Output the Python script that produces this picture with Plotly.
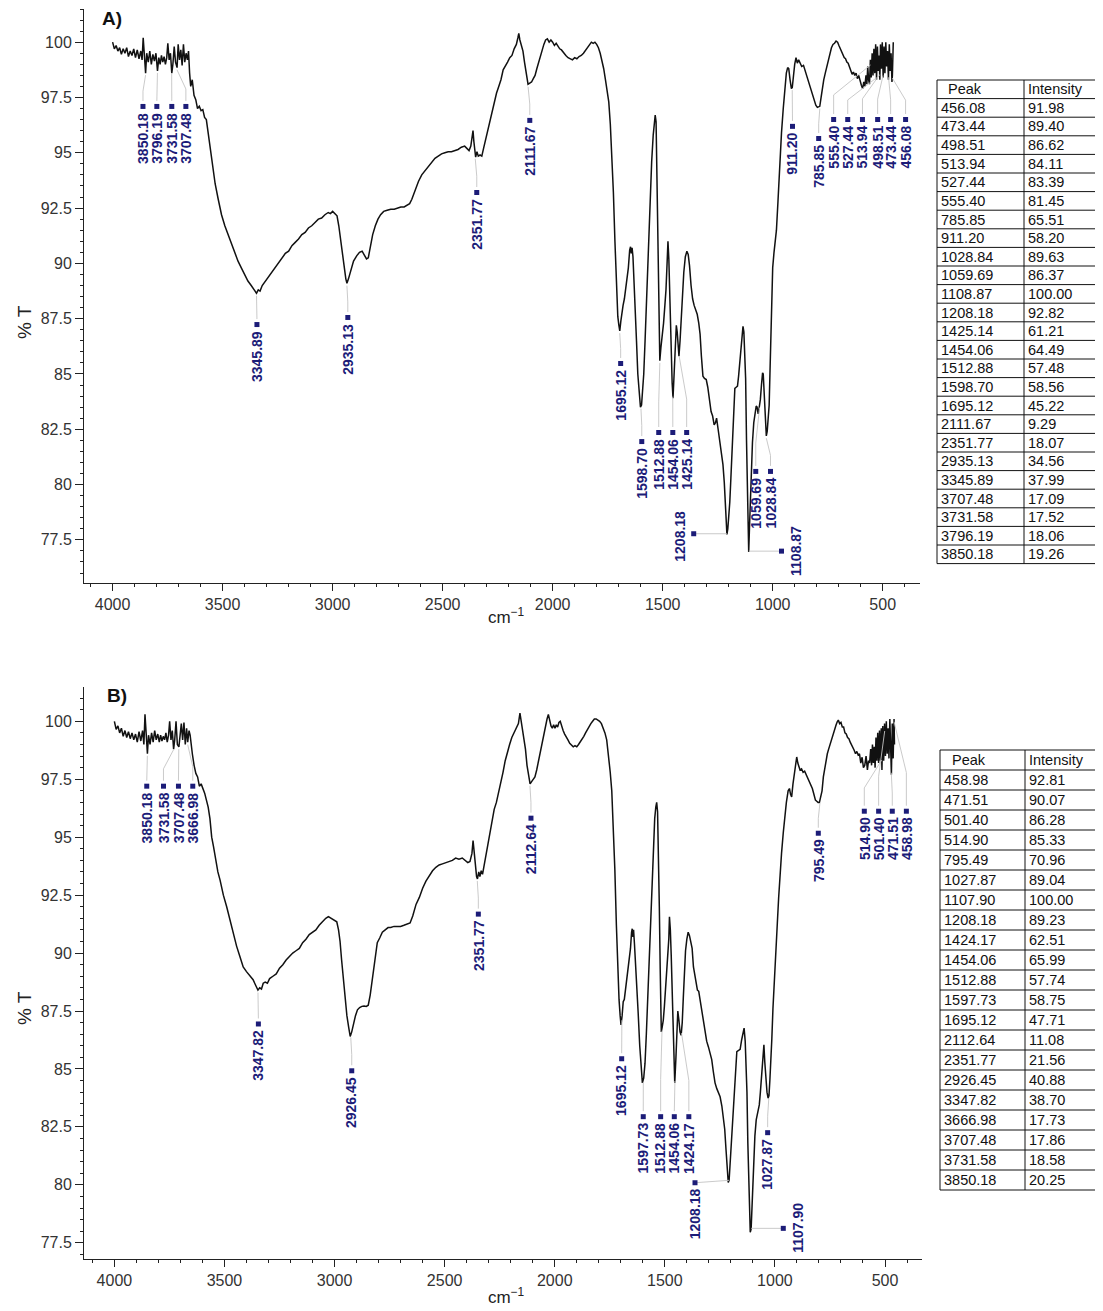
import numpy as np
import plotly.graph_objects as go

W, H = 1103, 1311
OFF = 8  # default page body margin of the written html page
FW, FH = W - OFF, H - OFF

# ---------------- Spectrum A (wavenumber cm-1, %T) ----------------
a_wn = [4000, 3992, 3984, 3976, 3968, 3960, 3952, 3944, 3936, 3928, 3920, 3912, 3904, 3896, 3888, 3880, 3872, 3866, 3861, 3856,
        3850, 3845, 3838, 3831, 3824, 3817, 3810, 3803, 3796, 3790, 3784, 3778, 3772, 3766, 3760, 3754, 3749, 3743, 3737, 3731,
        3726, 3720, 3714, 3707, 3702, 3696, 3690, 3684, 3678, 3672, 3666, 3660, 3655, 3650, 3645, 3638, 3630, 3622, 3614, 3606,
        3598, 3590, 3582, 3574, 3566, 3556, 3546, 3534, 3520, 3505, 3490, 3475, 3460, 3445, 3430, 3415, 3400, 3385, 3370, 3358,
        3346, 3338, 3330, 3320, 3305, 3290, 3275, 3260, 3245, 3230, 3215, 3200, 3185, 3170, 3155, 3140, 3125, 3110, 3095, 3080,
        3065, 3050, 3035, 3020, 3010, 3000, 2990, 2980, 2972, 2964, 2956, 2948, 2940, 2935, 2928, 2918, 2905, 2890, 2878, 2866,
        2856, 2846, 2838, 2828, 2818, 2806, 2794, 2782, 2768, 2752, 2736, 2720, 2704, 2690, 2675, 2660, 2650, 2640, 2625, 2610,
        2595, 2580, 2565, 2550, 2535, 2520, 2505, 2490, 2475, 2460, 2445, 2430, 2415, 2400, 2390, 2380, 2372, 2366, 2362, 2358,
        2354, 2350, 2344, 2338, 2330, 2322, 2314, 2305, 2295, 2285, 2275, 2265, 2255, 2245, 2235, 2225, 2215, 2205, 2195, 2185,
        2175, 2165, 2158, 2154, 2149, 2142, 2135, 2128, 2120, 2112, 2104, 2096, 2088, 2080, 2072, 2064, 2056, 2048, 2040, 2032,
        2024, 2016, 2008, 2000, 1992, 1984, 1976, 1968, 1960, 1950, 1940, 1930, 1920, 1910, 1900, 1890, 1880, 1870, 1860, 1850,
        1840, 1832, 1824, 1816, 1808, 1800, 1792, 1784, 1776, 1768, 1760, 1752, 1745, 1738, 1731, 1724, 1717, 1710, 1704, 1699,
        1695, 1690, 1685, 1680, 1674, 1668, 1662, 1656, 1650, 1646, 1643, 1639, 1635, 1630, 1625, 1619, 1613, 1607, 1601, 1596,
        1591, 1586, 1580, 1574, 1566, 1558, 1550, 1543, 1538, 1534, 1530, 1526, 1522, 1518, 1515, 1513, 1508, 1502, 1496, 1490,
        1485, 1480, 1476, 1472, 1467, 1462, 1457, 1453, 1448, 1443, 1438, 1434, 1430, 1426, 1421, 1416, 1411, 1404, 1397, 1390,
        1384, 1378, 1371, 1364, 1357, 1350, 1343, 1336, 1330, 1324, 1317, 1310, 1302, 1295, 1288, 1280, 1273, 1266, 1260, 1255,
        1248, 1240, 1233, 1226, 1220, 1215, 1211, 1208, 1204, 1200, 1195, 1190, 1185, 1180, 1176, 1172, 1166, 1160, 1155, 1150,
        1145, 1140, 1135, 1131, 1127, 1123, 1119, 1115, 1112, 1109, 1105, 1101, 1097, 1092, 1086, 1080, 1075, 1071, 1066, 1061,
        1056, 1051, 1046, 1043, 1040, 1036, 1032, 1029, 1025, 1020, 1016, 1012, 1008, 1004, 1000, 994, 988, 983, 976, 968,
        960, 952, 944, 938, 932, 927, 921, 915, 911, 906, 900, 894, 888, 882, 876, 868, 860, 852, 844, 836,
        828, 820, 812, 804, 797, 790, 786, 780, 774, 768, 761, 754, 747, 740, 733, 726, 719, 712, 705, 699,
        693, 687, 681, 675, 669, 663, 657, 651, 645, 639, 633, 627, 621, 615, 609, 603, 597, 591, 586, 581,
        576, 572, 568, 564, 560, 556, 552, 548, 544, 540, 536, 532, 528, 524, 520, 516, 513, 510, 506, 502,
        498, 494, 490, 486, 482, 478, 474, 470, 466, 462, 458, 456, 452]
a_t = [100.0, 99.7, 99.85, 99.6, 99.75, 99.45, 99.7, 99.5, 99.75, 99.35, 99.6, 99.4, 99.7, 99.3, 99.65, 99.25, 99.6, 99.2, 100.2, 99.4,
       98.6, 99.5, 99.1, 99.6, 99.0, 99.45, 99.15, 99.5, 98.7, 99.3, 99.0, 99.4, 99.1, 99.35, 99.0, 99.3, 99.95, 99.2, 99.5, 98.6,
       99.0, 99.8, 99.1, 98.85, 99.9, 99.2, 99.65, 98.95, 99.9, 99.1, 99.5, 99.2, 99.6, 98.6, 98.0, 98.3, 97.6, 97.4, 97.0, 97.1,
       96.9, 96.95, 96.6, 96.5, 95.9, 95.0, 94.5, 93.6, 92.9, 92.2, 91.7, 91.3, 90.9, 90.5, 90.1, 89.8, 89.5, 89.2, 89.0, 88.8,
       88.65, 88.8, 88.75, 89.0, 89.2, 89.45, 89.6, 89.85, 90.0, 90.2, 90.45, 90.55, 90.8, 90.95, 91.1, 91.3, 91.4, 91.6, 91.7, 91.85,
       92.0, 92.05, 92.2, 92.3, 92.25, 92.35, 92.25, 92.15, 91.7, 91.0, 90.4, 89.9, 89.3, 89.1, 89.3, 89.7, 90.1, 90.35, 90.5, 90.55,
       90.4, 90.2, 90.25, 90.8, 91.3, 91.7, 92.0, 92.2, 92.35, 92.4, 92.45, 92.45, 92.5, 92.55, 92.55, 92.65, 92.7, 92.9, 93.3, 93.7,
       94.0, 94.2, 94.4, 94.6, 94.75, 94.85, 94.95, 95.0, 95.05, 95.05, 95.1, 95.15, 95.25, 95.3, 95.2, 95.1, 95.3, 95.8, 96.0, 95.5,
       94.9, 94.8, 95.05, 94.85, 94.9, 94.85, 95.2, 95.6, 96.0, 96.5, 96.9, 97.3, 97.7, 98.0, 98.3, 98.75, 98.9, 99.1, 99.3, 99.4,
       99.7, 99.9, 100.2, 100.4, 100.1, 99.9, 99.6, 99.1, 98.5, 98.1, 98.15, 98.2, 98.35, 98.5, 98.8, 99.1, 99.4, 99.7, 99.9, 100.1,
       100.15, 100.0, 100.1, 100.0, 99.85, 99.95, 99.8, 99.7, 99.65, 99.5, 99.4, 99.3, 99.25, 99.2, 99.3, 99.25, 99.35, 99.4, 99.5, 99.65,
       99.75, 99.9, 100.0, 99.95, 100.0, 99.9, 99.75, 99.5, 99.2, 98.8, 98.3, 97.8, 97.3, 96.3, 95.0, 93.2, 91.0, 88.6, 87.6, 87.2,
       86.95, 87.4, 87.9, 88.1, 88.4, 88.8, 89.3, 89.8, 90.6, 90.75, 90.45, 90.7, 90.3, 89.3, 88.0, 86.5, 85.0, 84.0, 83.5, 83.6,
       84.2, 85.0, 86.5, 88.3, 90.6, 92.8, 94.6, 95.8, 96.5, 96.7, 96.4, 94.0, 90.5, 87.5, 86.0, 85.6, 86.2, 86.7, 87.3, 88.1,
       88.8, 90.0, 91.0, 90.2, 88.0, 86.1, 84.6, 83.9, 85.2, 86.6, 87.2, 86.9, 86.2, 85.8, 86.5, 87.6, 88.4, 89.6, 90.3, 90.55,
       90.4, 89.9, 89.0, 88.4, 88.1, 87.9, 87.7, 87.3, 86.8, 85.8, 84.9, 84.8, 84.75, 84.4, 83.9, 83.3, 83.1, 82.7, 82.8, 83.0,
       82.5, 81.9, 81.6, 80.9, 80.1, 79.0, 78.2, 77.75, 78.0, 78.5, 79.2, 80.3, 81.3, 82.3, 83.5, 84.35, 84.4, 84.45, 84.9, 85.5,
       86.2, 86.8, 87.15, 86.9, 86.0, 84.8, 82.0, 79.0, 77.0, 76.95, 78.2, 79.6, 80.8, 81.9, 82.8, 83.3, 83.55, 83.5, 83.2, 83.5,
       83.85, 84.5, 85.05, 85.0, 84.3, 83.3, 82.5, 82.2, 82.4, 82.9, 83.6, 85.2, 87.2, 88.8, 89.8, 90.5, 91.0, 91.5, 92.8, 94.5,
       95.9, 97.0, 98.0, 98.6, 98.85, 98.8, 98.3, 97.9, 97.95, 98.5, 99.0, 99.3, 99.05, 99.2, 99.1, 98.9, 98.95, 98.7, 98.4, 98.1,
       97.85, 97.6, 97.35, 97.15, 97.05, 97.1, 97.1, 97.5, 98.0, 98.3, 98.6, 98.9, 99.25, 99.55, 99.75, 99.9, 99.95, 100.05, 100.0, 99.85,
       99.7, 99.55, 99.45, 99.3, 99.25, 99.1, 99.05, 98.85, 98.7, 98.55, 98.65, 98.5, 98.6, 98.35, 98.5, 98.2, 98.05, 97.9, 98.2, 98.0,
       98.5, 98.1, 98.9, 98.3, 98.1, 99.2, 98.4, 99.5, 98.5, 99.7, 98.6, 99.9, 98.3, 99.8, 98.7, 99.4, 98.3, 99.9, 98.8, 100.0,
       98.4, 99.8, 98.6, 100.0, 98.9, 99.6, 98.3, 99.9, 98.7, 99.5, 98.2, 98.5, 100.0]

# ---------------- Spectrum B ----------------
b_wn = [4000, 3992, 3984, 3976, 3968, 3960, 3952, 3944, 3936, 3928, 3920, 3912, 3904, 3896, 3888, 3880, 3872, 3866, 3861, 3856,
        3850, 3845, 3838, 3831, 3824, 3817, 3810, 3803, 3796, 3790, 3784, 3778, 3772, 3766, 3760, 3754, 3749, 3743, 3737, 3731,
        3726, 3720, 3714, 3707, 3702, 3696, 3690, 3684, 3678, 3672, 3667, 3661, 3656, 3651, 3646, 3638, 3630, 3622, 3614, 3606,
        3598, 3590, 3582, 3574, 3566, 3558, 3550, 3540, 3530, 3520, 3505, 3490, 3475, 3460, 3445, 3430, 3415, 3400, 3385, 3370,
        3358, 3348, 3340, 3332, 3324, 3315, 3305, 3295, 3280, 3265, 3250, 3235, 3220, 3205, 3190, 3175, 3160, 3145, 3130, 3115,
        3100, 3085, 3070, 3055, 3040, 3028, 3015, 3002, 2990, 2982, 2975, 2968, 2960, 2952, 2944, 2936, 2929, 2922, 2914, 2905,
        2896, 2886, 2876, 2866, 2856, 2847, 2838, 2831, 2822, 2814, 2806, 2795, 2783, 2770, 2757, 2745, 2730, 2715, 2700, 2685,
        2670, 2657, 2645, 2630, 2615, 2600, 2585, 2570, 2555, 2540, 2525, 2510, 2495, 2480, 2465, 2450, 2435, 2420, 2405, 2395,
        2385, 2376, 2371, 2366, 2360, 2355, 2351, 2345, 2340, 2334, 2328, 2320, 2312, 2304, 2295, 2285, 2275, 2265, 2255, 2245,
        2235, 2225, 2215, 2205, 2195, 2185, 2175, 2165, 2158, 2152, 2146, 2140, 2133, 2126, 2119, 2112, 2105, 2098, 2090, 2082,
        2074, 2066, 2058, 2050, 2042, 2035, 2029, 2023, 2017, 2011, 2005, 1999, 1993, 1987, 1981, 1975, 1969, 1962, 1955, 1948,
        1940, 1932, 1924, 1916, 1908, 1900, 1892, 1884, 1876, 1868, 1860, 1852, 1844, 1836, 1828, 1820, 1812, 1804, 1796, 1788,
        1780, 1772, 1764, 1756, 1748, 1741, 1734, 1727, 1720, 1714, 1708, 1703, 1699, 1694, 1689, 1684, 1679, 1674, 1668, 1662,
        1656, 1651, 1648, 1645, 1642, 1638, 1633, 1627, 1621, 1614, 1608, 1602, 1596, 1590, 1584, 1578, 1572, 1565, 1558, 1552,
        1546, 1541, 1537, 1533, 1529, 1525, 1521, 1518, 1516, 1512, 1507, 1502, 1497, 1491, 1486, 1482, 1479, 1475, 1471, 1466,
        1462, 1458, 1455, 1450, 1446, 1441, 1436, 1431, 1426, 1421, 1416, 1411, 1406, 1400, 1394, 1388, 1382, 1376, 1370, 1364,
        1358, 1352, 1346, 1340, 1333, 1325, 1317, 1310, 1302, 1295, 1287, 1280, 1272, 1264, 1256, 1249, 1241, 1234, 1228, 1222,
        1217, 1212, 1208, 1203, 1198, 1193, 1188, 1183, 1178, 1173, 1165, 1158, 1151, 1145, 1140, 1135, 1131, 1127, 1123, 1119,
        1115, 1112, 1108, 1104, 1100, 1096, 1091, 1085, 1080, 1075, 1071, 1066, 1060, 1055, 1050, 1046, 1041, 1036, 1031, 1027,
        1023, 1019, 1014, 1009, 1004, 999, 995, 989, 983, 977, 970, 962, 955, 948, 940, 934, 929, 924, 918, 912,
        906, 901, 896, 891, 886, 879, 872, 865, 858, 851, 844, 837, 830, 823, 816, 810, 804, 798, 792, 786,
        780, 774, 768, 762, 756, 750, 743, 736, 729, 722, 716, 712, 706, 700, 694, 688, 682, 676, 670, 664,
        658, 652, 646, 640, 634, 628, 622, 616, 610, 604, 598, 592, 586, 580, 575, 570, 565, 561, 557, 553,
        549, 545, 541, 537, 533, 529, 525, 521, 517, 514, 510, 506, 502, 498, 494, 490, 486, 482, 478, 474,
        471, 467, 463, 459, 457]
b_t = [100.0, 99.65, 99.8, 99.5, 99.7, 99.35, 99.6, 99.3, 99.55, 99.25, 99.5, 99.2, 99.45, 99.1, 99.55, 99.15, 99.6, 99.0, 100.3, 99.2,
       98.6, 99.4, 99.0, 99.5, 99.1, 99.6, 99.2, 99.45, 99.1, 99.4, 99.15, 99.35, 99.2, 99.5, 99.1, 99.4, 100.0, 99.2, 99.6, 98.8,
       99.2, 100.0, 99.0, 98.9, 99.5, 99.9, 99.2, 99.95, 99.0, 99.7, 99.1, 99.6, 99.4, 98.9, 98.6, 98.1, 97.75, 97.6, 97.2, 97.3,
       97.1, 96.9, 96.6, 96.3, 95.8, 95.0, 94.6, 94.0, 93.5, 93.15, 92.5, 92.0, 91.4, 90.85, 90.3, 89.85, 89.4, 89.2, 89.0, 88.85,
       88.6, 88.4, 88.5, 88.45, 88.7, 88.75, 88.7, 88.9, 89.0, 89.1, 89.35, 89.5, 89.7, 89.85, 90.0, 90.1, 90.2, 90.45, 90.6, 90.8,
       90.9, 91.0, 91.2, 91.35, 91.5, 91.57, 91.5, 91.45, 91.35, 91.0, 90.5, 89.7, 88.9, 88.0, 87.3, 86.8, 86.4, 86.6, 87.0, 87.3,
       87.55, 87.65, 87.7, 87.72, 87.7, 87.75, 88.2, 88.7, 89.5, 90.1, 90.45, 90.65, 90.9, 91.0, 91.1, 91.1, 91.15, 91.15, 91.15, 91.2,
       91.25, 91.3, 91.6, 92.1, 92.4, 92.8, 93.1, 93.35, 93.55, 93.7, 93.8, 93.85, 93.9, 93.95, 94.0, 94.1, 94.05, 94.1, 94.0, 93.9,
       93.95, 94.3, 94.85, 94.4, 93.6, 93.3, 93.2, 93.5, 93.3, 93.55, 93.4, 93.8, 94.2, 94.6, 95.2, 95.7, 96.2, 96.5, 96.9, 97.4,
       97.8, 98.3, 98.7, 99.0, 99.3, 99.5, 99.7, 99.9, 100.35, 100.0, 99.7, 99.3, 98.8, 98.1, 97.6, 97.3, 97.4, 97.5, 97.6, 97.9,
       98.3, 98.7, 99.0, 99.4, 99.8, 100.1, 100.3, 100.0, 99.8, 99.7, 99.85, 99.7, 99.85, 99.75, 99.95, 100.0, 99.75, 99.6, 99.45, 99.3,
       99.2, 99.05, 98.95, 98.9, 98.95, 98.9, 99.0, 99.1, 99.2, 99.35, 99.5, 99.65, 99.8, 99.9, 100.0, 100.1, 100.1, 100.05, 100.0, 99.9,
       99.7, 99.5, 99.2, 98.6, 97.8, 97.0, 95.6, 93.6, 91.2, 89.0, 88.0, 87.3, 86.9, 87.3, 87.9, 88.0, 88.4, 88.8, 89.2, 89.7,
       90.2, 90.9, 91.05, 90.7, 91.0, 90.4, 89.6, 88.6, 87.4, 86.0, 85.0, 84.4, 84.6, 85.25, 86.5, 88.0, 89.5, 91.4, 93.3, 94.87,
       95.8, 96.3, 96.5, 96.1, 94.5, 92.0, 89.3, 87.2, 86.6, 86.8, 87.1, 87.7, 88.4, 89.0, 89.6, 90.6, 91.57, 91.0, 89.9, 87.8,
       86.0, 84.6, 84.4, 85.4, 86.5, 87.5, 87.1, 86.6, 86.45, 87.0, 88.1, 89.3, 90.1, 90.6, 90.9, 90.75, 90.5, 90.2, 89.4, 89.0,
       88.6, 88.4, 88.35, 88.0, 87.6, 87.0, 86.6, 86.2, 85.95, 85.7, 85.4, 84.9, 84.4, 84.15, 84.0, 83.8, 83.4, 82.95, 82.4, 81.5,
       80.8, 80.1, 80.2, 81.0, 81.8, 82.8, 83.7, 84.6, 85.4, 85.75, 85.8, 85.85, 86.26, 86.5, 86.76, 86.2, 85.4, 84.0, 81.8, 79.9,
       78.4, 77.95, 78.1, 79.0, 80.0, 81.2, 82.1, 82.8, 83.1, 83.3, 83.45, 84.0, 84.7, 85.5, 86.04, 85.3, 84.5, 84.0, 83.74, 83.85,
       84.5, 85.1, 86.3, 87.6, 88.7, 89.5, 90.1, 91.3, 92.4, 93.4, 94.3, 95.2, 95.9, 96.5, 97.0, 97.1, 96.85, 96.74, 97.3, 97.8,
       98.2, 98.46, 98.2, 98.0, 97.9, 97.95, 97.8, 97.85, 97.7, 97.6, 97.45, 97.3, 97.1, 96.85, 96.6, 96.55, 96.5, 96.5, 96.7, 97.0,
       97.6, 98.0, 98.3, 98.6, 98.8, 99.0, 99.25, 99.45, 99.65, 99.85, 100.0, 100.05, 99.9, 99.95, 99.75, 99.75, 99.5, 99.45, 99.3, 99.25,
       99.1, 99.0, 98.9, 98.75, 98.6, 98.7, 98.55, 98.6, 98.2, 98.45, 98.0, 98.1, 98.5, 97.9, 98.3, 98.2, 98.8, 98.1, 99.0, 98.2,
       98.9, 98.0, 99.3, 98.3, 99.5, 98.2, 99.6, 98.3, 99.7, 97.9, 99.8, 98.3, 99.9, 98.5, 100.0, 98.6, 99.7, 98.4, 100.1, 98.8,
       97.7, 99.9, 98.4, 100.1, 99.0]

# ---------------- Peak tables ----------------
a_peak = ["456.08", "473.44", "498.51", "513.94", "527.44", "555.40", "785.85", "911.20", "1028.84", "1059.69", "1108.87",
          "1208.18", "1425.14", "1454.06", "1512.88", "1598.70", "1695.12", "2111.67", "2351.77", "2935.13", "3345.89",
          "3707.48", "3731.58", "3796.19", "3850.18"]
a_int = ["91.98", "89.40", "86.62", "84.11", "83.39", "81.45", "65.51", "58.20", "89.63", "86.37", "100.00",
         "92.82", "61.21", "64.49", "57.48", "58.56", "45.22", "9.29", "18.07", "34.56", "37.99",
         "17.09", "17.52", "18.06", "19.26"]
b_peak = ["458.98", "471.51", "501.40", "514.90", "795.49", "1027.87", "1107.90", "1208.18", "1424.17", "1454.06",
          "1512.88", "1597.73", "1695.12", "2112.64", "2351.77", "2926.45", "3347.82", "3666.98", "3707.48", "3731.58",
          "3850.18"]
b_int = ["92.81", "90.07", "86.28", "85.33", "70.96", "89.04", "100.00", "89.23", "62.51", "65.99",
         "57.74", "58.75", "47.71", "11.08", "21.56", "40.88", "38.70", "17.73", "17.86", "18.58", "20.25"]

# ---------------- Peak label placement (layout) ----------------
# kind 'v': square on top of text, leader from peak down to label
# kind 'h': square on top of text, horizontal leader from square to peak
# kind 's': text separate, square at its side, horizontal leader
a_labels = [
    ("v", 3850.18, 3862, 97.23), ("v", 3796.19, 3799, 97.23), ("v", 3731.58, 3731, 97.23), ("v", 3707.48, 3667, 97.23),
    ("v", 3345.89, 3344, 87.37), ("v", 2935.13, 2931, 87.69), ("v", 2351.77, 2345, 93.34), ("v", 2111.67, 2104, 96.6),
    ("v", 1695.12, 1691, 85.61), ("v", 1598.70, 1595, 82.08), ("v", 1512.88, 1518, 82.49), ("v", 1454.06, 1454, 82.49),
    ("v", 1425.14, 1391, 82.49), ("v", 1059.69, 1077, 80.73), ("v", 1028.84, 1010, 80.73), ("v", 911.20, 910, 96.33),
    ("v", 785.85, 791, 95.78), ("v", 555.40, 723, 96.64), ("v", 527.44, 659, 96.64), ("v", 513.94, 592, 96.64),
    ("v", 498.51, 523, 96.64), ("v", 473.44, 464, 96.64), ("v", 456.08, 396, 96.64),
    ("s", 1208.18, 1422, 77.68, 1359), ("s", 1108.87, 895, 76.99, 960),
]
b_labels = [
    ("v", 3850.18, 3853, 97.33), ("v", 3731.58, 3777, 97.33), ("v", 3707.48, 3709, 97.33), ("v", 3666.98, 3644, 97.33),
    ("v", 3347.82, 3346, 87.07), ("v", 2926.45, 2922, 85.05), ("v", 2351.77, 2347, 91.81), ("v", 2112.64, 2108, 95.95),
    ("v", 1695.12, 1696, 85.57), ("v", 1597.73, 1598, 83.07), ("v", 1512.88, 1519, 83.07), ("v", 1454.06, 1457, 83.07),
    ("v", 1424.17, 1391, 83.07), ("h", 1208.18, 1363, 80.22), ("v", 1027.87, 1033, 82.38), ("v", 795.49, 803, 95.3),
    ("v", 514.90, 594, 96.25), ("v", 501.40, 529, 96.25), ("v", 471.51, 467, 96.25), ("v", 458.98, 403, 96.25),
    ("s", 1107.90, 894, 78.16, 962),
]

FONT = "Liberation Sans, Arial, sans-serif"
NAVY = "#1c1c78"
LEAD = "#c4c4c4"

# panel geometry (pixels of the target picture)
panels = {
    "A": dict(xpx=(84, 920), ypx=(9, 583), xr=[4130, 330.5], yr=[75.55, 101.5], xa="x", ya="y"),
    "B": dict(xpx=(84, 922), ypx=(687, 1259), xr=[4138, 332], yr=[76.8, 101.48], xa="x2", ya="y2"),
}


def pxx(p):
    return (p - OFF) / FW


def pxy(p):
    return 1 - (p - OFF) / FH


fig = go.Figure()
annotations = []
shapes = []


def fmt_wn(v):
    return f"{v:.2f}"


def add_panel(key, wn, t, labels):
    P = panels[key]
    ppu = (P["ypx"][1] - P["ypx"][0]) / (P["yr"][1] - P["yr"][0])  # px per %T
    fig.add_trace(go.Scatter(x=wn, y=t, mode="lines", line=dict(color="#111", width=1.5),
                             xaxis=P["xa"], yaxis=P["ya"], hoverinfo="skip", showlegend=False))
    wn_r = np.array(wn[::-1], dtype=float)
    t_r = np.array(t[::-1], dtype=float)
    lx, ly, sx, sy = [], [], [], []
    g = 2.5 / ppu
    sq = 3.0 / ppu
    for lab in labels:
        kind, pk, lwn, ltop = lab[0], lab[1], lab[2], lab[3]
        pt = float(np.interp(pk, wn_r, t_r))
        txt = fmt_wn(pk)
        if kind in ("v", "h"):
            annotations.append(dict(x=lwn, y=ltop, xref=P["xa"], yref=P["ya"], text=txt, textangle=-90,
                                    showarrow=False, xanchor="center", yanchor="top", yshift=-7,
                                    font=dict(family=FONT, size=14, color=NAVY, weight="bold")))
            sx.append(lwn)
            sy.append(ltop - sq)
            if kind == "v":
                elbow = ltop + 0.4 * (pt - ltop)
                lx += [lwn, lwn, pk, None]
                ly += [ltop + g, elbow, pt - g, None]
            else:
                lx += [lwn, pk, None]
                ly += [ltop - sq, pt, None]
        else:
            sqwn = lab[4]
            annotations.append(dict(x=lwn, y=ltop, xref=P["xa"], yref=P["ya"], text=txt, textangle=-90,
                                    showarrow=False, xanchor="center", yanchor="middle",
                                    font=dict(family=FONT, size=14, color=NAVY, weight="bold")))
            sx.append(sqwn)
            sy.append(pt)
            lx += [sqwn, pk, None]
            ly += [pt, pt, None]
    fig.add_trace(go.Scatter(x=lx, y=ly, mode="lines", line=dict(color=LEAD, width=0.9),
                             xaxis=P["xa"], yaxis=P["ya"], hoverinfo="skip", showlegend=False))
    fig.add_trace(go.Scatter(x=sx, y=sy, mode="markers", marker=dict(symbol="square", size=5, color=NAVY),
                             xaxis=P["xa"], yaxis=P["ya"], hoverinfo="skip", showlegend=False))


add_panel("A", a_wn, a_t, a_labels)
add_panel("B", b_wn, b_t, b_labels)


def axis_common():
    return dict(showline=True, linecolor="#222", linewidth=1, ticks="outside", tickcolor="#222",
                tickwidth=1, showgrid=False, zeroline=False,
                tickfont=dict(family=FONT, size=16, color="#333"))


layout_axes = {}
for key, (xn, yn) in {"A": ("xaxis", "yaxis"), "B": ("xaxis2", "yaxis2")}.items():
    P = panels[key]
    xd = [pxx(P["xpx"][0]), pxx(P["xpx"][1])]
    yd = [pxy(P["ypx"][1]), pxy(P["ypx"][0])]
    xa = axis_common()
    xa.update(domain=xd, range=P["xr"], anchor=P["ya"], tick0=0, dtick=500, ticklen=7,
              minor=dict(dtick=100, ticklen=3, ticks="outside", tickcolor="#222"))
    ya = axis_common()
    ya.update(domain=yd, range=P["yr"], anchor=P["xa"], tick0=0, dtick=2.5, ticklen=8,
              minor=dict(dtick=0.5, ticklen=3, ticks="outside", tickcolor="#222"))
    layout_axes[xn] = xa
    layout_axes[yn] = ya

# panel letters and axis titles
for txt, x, y in [("A)", 112, 19), ("B)", 117, 695)]:
    annotations.append(dict(x=pxx(x), y=pxy(y), xref="paper", yref="paper", text=txt, showarrow=False,
                            xanchor="center", yanchor="middle",
                            font=dict(family=FONT, size=19, color="#111", weight="bold")))
for y in (322, 1008):
    annotations.append(dict(x=pxx(24), y=pxy(y), xref="paper", yref="paper", text="% T", textangle=-90,
                            showarrow=False, xanchor="center", yanchor="middle",
                            font=dict(family=FONT, size=19, color="#222")))
for y in (616, 1296):
    annotations.append(dict(x=pxx(506), y=pxy(y), xref="paper", yref="paper", text="cm<sup>−1</sup>",
                            showarrow=False, xanchor="center", yanchor="middle",
                            font=dict(family=FONT, size=17, color="#222")))


# ---------------- peak tables (drawn with shapes + text) ----------------
def draw_table(peaks, ints, xl, xm, xr, top, rh, hdr_x):
    n = len(peaks) + 1
    bottom = top + n * rh
    for i in range(n + 1):
        yy = top + i * rh
        shapes.append(dict(type="line", xref="paper", yref="paper", x0=pxx(xl), x1=pxx(xr),
                           y0=pxy(yy), y1=pxy(yy), line=dict(color="#111", width=1)))
    for xx in (xl, xm, xr):
        shapes.append(dict(type="line", xref="paper", yref="paper", x0=pxx(xx), x1=pxx(xx),
                           y0=pxy(top), y1=pxy(bottom), line=dict(color="#111", width=1)))
    rows = [("Peak", "Intensity")] + list(zip(peaks, ints))
    for i, (p, v) in enumerate(rows):
        yc = top + (i + 0.5) * rh
        annotations.append(dict(x=pxx(hdr_x if i == 0 else xl + 2), y=pxy(yc), xref="paper", yref="paper",
                                text=p, showarrow=False, xanchor="left", yanchor="middle",
                                font=dict(family=FONT, size=14.5, color="#111")))
        annotations.append(dict(x=pxx(xm + 2), y=pxy(yc), xref="paper", yref="paper",
                                text=v, showarrow=False, xanchor="left", yanchor="middle",
                                font=dict(family=FONT, size=14.5, color="#111")))


draw_table(a_peak, a_int, 937, 1024, 1102, 80, 18.6, 946)
draw_table(b_peak, b_int, 940, 1025, 1102, 750, 20.0, 950)

fig.update_layout(width=FW, height=FH, margin=dict(l=0, r=0, t=0, b=0),
                  paper_bgcolor="white", plot_bgcolor="white",
                  annotations=annotations, shapes=shapes, showlegend=False, **layout_axes)

fig.write_html("out.html")
